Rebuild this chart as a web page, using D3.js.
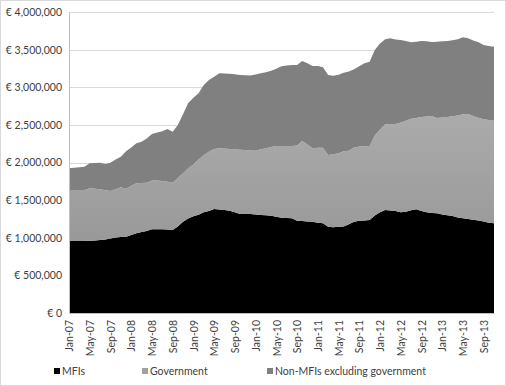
<html>
  <head>
    <meta charset="UTF-8">
    <style>
      body { margin: 0; background: #fff; }
      text { font-family: Lato, 'Open Sans', sans-serif; fill: #404040; }
    </style>
  </head>
  <body>
    <script src="https://d3js.org/d3.v7.min.js"></script>
    <svg id="chart" width="506" height="386"></svg>
    <script>
      var months = ["Jan","Feb","Mar","Apr","May","Jun","Jul","Aug","Sep","Oct","Nov","Dec"];
      var labels = [];
      for (var i = 0; i < 83; i++) {
        labels.push(months[i % 12] + "-" + String(7 + Math.floor(i / 12)).padStart(2, "0"));
      }

      // values in thousands of euro
      var mfis = [957,957,957,957,960,963,970,978,990,1003,1010,1014,1035,1059,1075,1090,1112,1112,1112,1108,
        1103,1150,1213,1255,1285,1305,1338,1355,1382,1375,1368,1360,1340,1316,1316,1316,1310,1302,1298,1293,
        1280,1267,1262,1258,1225,1222,1215,1212,1200,1192,1145,1140,1147,1150,1180,1213,1225,1230,1236,1295,
        1340,1369,1362,1355,1340,1345,1365,1378,1355,1338,1330,1325,1310,1300,1290,1270,1258,1250,1240,1230,
        1215,1200,1192];
      var government = [678,678,678,678,697,687,674,652,631,641,660,638,655,665,653,642,648,650,642,637,
        629,645,644,670,690,735,762,788,798,814,817,820,835,854,850,844,845,873,892,912,
        939,952,957,961,1000,1064,1025,977,995,1005,955,970,975,1000,977,987,987,986,983,1065,
        1100,1138,1148,1157,1190,1211,1215,1212,1250,1274,1288,1265,1288,1305,1325,1355,1382,1394,1378,1365,
        1359,1365,1364];
      var nonMfis = [288,295,303,309,332,343,353,350,376,396,407,498,510,531,548,588,619,638,661,700,
        677,703,783,865,885,880,930,953,960,996,997,998,997,993,992,995,1015,1010,1010,1015,
        1026,1061,1071,1077,1071,1063,1078,1093,1087,1068,1063,1044,1043,1043,1053,1038,1068,1102,1121,1135,
        1140,1130,1140,1123,1098,1059,1017,1015,1010,998,983,1015,1012,1010,1010,1012,1024,1006,1002,1002,
        987,983,983];
      var seriesNames = ["MFIs", "Government", "Non-MFIs excluding government"];
      var yTicks = [0, 500, 1000, 1500, 2000, 2500, 3000, 3500, 4000];

      var colors = ["#000000", "url(#govGrad)", "#808080"];
      var legendColors = ["#000000", "#a0a0a0", "#808080"];

      var svg = d3.select("#chart");
      var margin = {top: 12, right: 12, bottom: 73, left: 69},
          width = 506 - margin.left - margin.right,
          height = 386 - margin.top - margin.bottom;

      var defs = svg.append("defs");
      var grad = defs.append("linearGradient").attr("id", "govGrad")
        .attr("x1", 0).attr("y1", 0).attr("x2", 0).attr("y2", 1);
      grad.append("stop").attr("offset", "0%").attr("stop-color", "#ababab");
      grad.append("stop").attr("offset", "100%").attr("stop-color", "#999999");

      svg.append("rect").attr("x", 0.5).attr("y", 0.5).attr("width", 505).attr("height", 385)
        .attr("fill", "none").attr("stroke", "#d9d9d9");

      var g = svg.append("g").attr("transform", "translate(" + margin.left + "," + margin.top + ")");

      var x = d3.scalePoint().domain(labels).range([0, width]);
      var y = d3.scaleLinear().domain([0, 4000]).range([height, 0]);

      /* gridlines */
      g.selectAll(".grid").data(yTicks.slice(1)).enter().append("line")
        .attr("x1", 0).attr("x2", width)
        .attr("y1", function(d) { return Math.round(y(d)) + 0.5; })
        .attr("y2", function(d) { return Math.round(y(d)) + 0.5; })
        .attr("stroke", "#d9d9d9");

      /* stacked areas */
      var table = labels.map(function(l, i) {
        return {label: l, "MFIs": mfis[i], "Government": government[i], "Non-MFIs excluding government": nonMfis[i]};
      });
      var stack = d3.stack().keys(seriesNames)(table);
      var area = d3.area()
        .x(function(d) { return x(d.data.label); })
        .y0(function(d) { return y(d[0]); })
        .y1(function(d) { return y(d[1]); });
      g.selectAll(".layer").data(stack).enter().append("path")
        .attr("d", area)
        .attr("fill", function(d, i) { return colors[i]; });

      /* y axis */
      var fmt = d3.format(",");
      var yAxis = g.append("g").call(d3.axisLeft(y).tickValues(yTicks).tickSize(0).tickPadding(7)
        .tickFormat(function(d) { return "\u20ac " + fmt(d * 1000); }));
      yAxis.select(".domain").attr("stroke", "#bfbfbf");
      yAxis.selectAll("text").style("font-size", "10.5px").style("fill", "#404040");

      /* x axis */
      var xAxis = g.append("g").attr("transform", "translate(0," + height + ")")
        .call(d3.axisBottom(x).tickValues(labels.filter(function(d, i) { return i % 4 == 0; })).tickSize(0));
      xAxis.select(".domain").attr("stroke", "#bfbfbf");
      xAxis.selectAll("text")
        .style("font-size", "10.5px").style("fill", "#404040")
        .attr("text-anchor", "end")
        .attr("dx", "-7px").attr("dy", "0.35em").attr("y", 0)
        .attr("transform", "rotate(-90)");

      /* legend */
      var legendX = [54, 142, 267];
      var legend = svg.selectAll(".legend").data(seriesNames).enter().append("g")
        .attr("transform", function(d, i) { return "translate(" + legendX[i] + ",368)"; });
      legend.append("rect").attr("width", 6).attr("height", 6)
        .attr("fill", function(d, i) { return legendColors[i]; });
      legend.append("text").attr("x", 8).attr("y", 6.5)
        .style("font-size", "10.5px").text(function(d) { return d; });
    </script>
  </body>
</html>
